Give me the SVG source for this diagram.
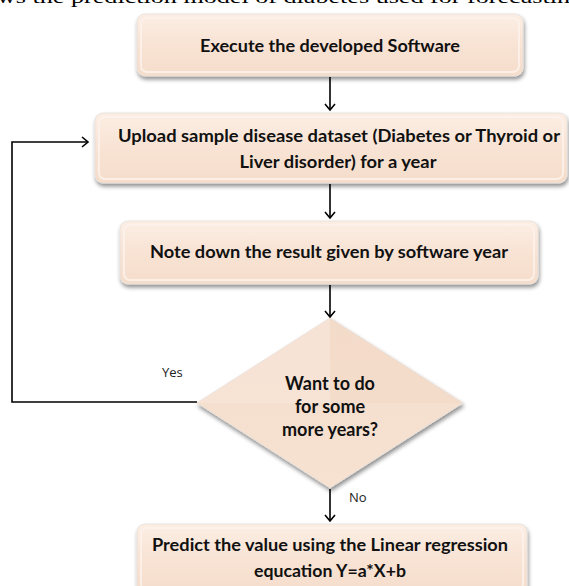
<svg xmlns="http://www.w3.org/2000/svg" width="569" height="586" viewBox="0 0 569 586">
<defs>
<linearGradient id="gBox" x1="0" y1="0" x2="0" y2="1">
<stop offset="0" stop-color="#FCEEE4"/>
<stop offset="0.5" stop-color="#F8E3D4"/>
<stop offset="1" stop-color="#F5DDCB"/>
</linearGradient>
<linearGradient id="gDia" x1="0" y1="0" x2="0" y2="1">
<stop offset="0" stop-color="#F3DCCB"/>
<stop offset="1" stop-color="#F7E2D2"/>
</linearGradient>
<filter id="sh" x="-10%" y="-20%" width="120%" height="150%">
<feGaussianBlur in="SourceAlpha" stdDeviation="2"/>
<feOffset dx="1" dy="3" result="b"/>
<feComponentTransfer><feFuncA type="linear" slope="0.45"/></feComponentTransfer>
<feMerge><feMergeNode/><feMergeNode in="SourceGraphic"/></feMerge>
</filter>
<marker id="arr" viewBox="0 0 12 12" refX="10" refY="6" markerWidth="12" markerHeight="12" markerUnits="userSpaceOnUse" orient="auto">
<path d="M4,1 L10,6 L4,11" fill="none" stroke="#000" stroke-width="1.6"/>
</marker>
</defs>
<style>
.box{fill:url(#gBox);stroke:#E6E0DA;stroke-width:0.8;filter:url(#sh)}
.bev{fill:none;stroke:#FDF3EC;stroke-width:2;opacity:0.8}
.t{font-family:Lato,"Open Sans","Liberation Sans",sans-serif;font-weight:bold;font-size:16.5px;fill:#111;text-anchor:middle}
.d{font-size:18px}
.lbl{font-family:"Open Sans","Liberation Sans",sans-serif;font-size:13px;fill:#222}
.c{fill:none;stroke:#000;stroke-width:1.6}
.body{font-family:"Liberation Serif","Times New Roman",serif;font-size:19px;fill:#000}
</style>
<text class="body" x="-3" y="3" textLength="573" lengthAdjust="spacingAndGlyphs">ws the prediction model of diabetes used for forecastin</text>

<g id="n1">
<rect class="box" x="137" y="14" width="386" height="62" rx="8"/>
<rect class="bev" x="141" y="18" width="378" height="54" rx="6"/>
<text class="t" x="330" y="52" textLength="260" lengthAdjust="spacingAndGlyphs">Execute the developed Software</text>
</g>
<g id="n2">
<rect class="box" x="95" y="113" width="472" height="70" rx="8"/>
<rect class="bev" x="99" y="117" width="464" height="62" rx="6"/>
<text class="t" x="339" y="142" textLength="442" lengthAdjust="spacingAndGlyphs">Upload sample disease dataset (Diabetes or Thyroid or</text>
<text class="t" x="338" y="168" textLength="197" lengthAdjust="spacingAndGlyphs">Liver disorder) for a year</text>
</g>
<g id="n3">
<rect class="box" x="120" y="221" width="418" height="63" rx="8"/>
<rect class="bev" x="124" y="225" width="410" height="55" rx="6"/>
<text class="t" x="329" y="258" textLength="358" lengthAdjust="spacingAndGlyphs">Note down the result given by software year</text>
</g>
<g id="n4">
<path d="M330,318 L463,403 L330,488 L197,403 Z" fill="url(#gDia)" stroke="#E6E0DA" stroke-width="0.8" filter="url(#sh)"/>
<path d="M330,318 L330,403 L197,403 Z" fill="#F8E6D8" opacity="0.7"/>
<path d="M330,318 L463,403 L330,403 Z" fill="#F3DAC8" opacity="0.5"/>
<text class="t d" x="330" y="390">Want to do</text>
<text class="t d" x="330" y="413">for some</text>
<text class="t d" x="330" y="436">more years?</text>
</g>
<g id="n5">
<rect class="box" x="137" y="524" width="390" height="70" rx="8"/>
<rect class="bev" x="141" y="528" width="382" height="62" rx="6"/>
<text class="t" x="330" y="551" textLength="356" lengthAdjust="spacingAndGlyphs">Predict the value using the Linear regression</text>
<text class="t" x="330" y="577" textLength="152" lengthAdjust="spacingAndGlyphs">equcation Y=a*X+b</text>
</g>
<g id="connectors">
<line class="c" x1="330" y1="77" x2="330" y2="110" marker-end="url(#arr)"/>
<line class="c" x1="330" y1="184" x2="330" y2="218" marker-end="url(#arr)"/>
<line class="c" x1="330" y1="285" x2="330" y2="317" marker-end="url(#arr)"/>
<line class="c" x1="330" y1="489" x2="330" y2="521" marker-end="url(#arr)"/>
<polyline class="c" points="197,402 12,402 12,142 88,142" marker-end="url(#arr)"/>
<text class="lbl" x="162" y="377">Yes</text>
<text class="lbl" x="349" y="502">No</text>
</g>
</svg>
